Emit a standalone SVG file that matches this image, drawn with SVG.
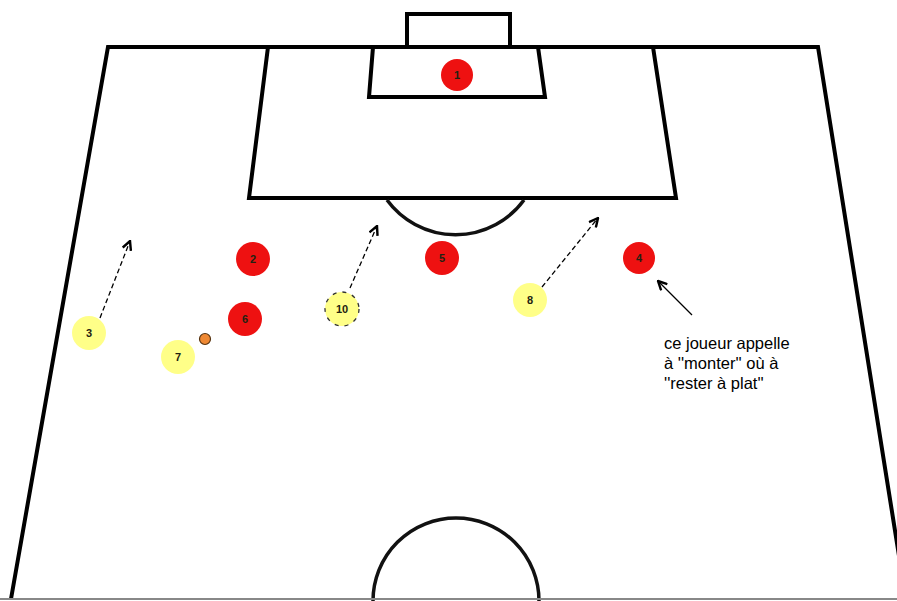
<svg xmlns="http://www.w3.org/2000/svg" width="897" height="601" viewBox="0 0 897 601">
<defs>
<style>
.line{fill:none;stroke:#000;stroke-width:4;stroke-linejoin:miter}
.arc{fill:none;stroke:#111;stroke-width:3.5}
.red{fill:#ee1111}
.yel{fill:#ffff88}
.num{font-family:"Liberation Sans",Arial,sans-serif;font-size:11px;font-weight:bold;fill:#221;text-anchor:middle}
.run{fill:none;stroke:#000;stroke-width:1.3;stroke-dasharray:5,3}
.note{font-family:"Liberation Sans",Arial,sans-serif;font-size:16.5px;fill:#000}
</style>
<marker id="ah" viewBox="0 0 10 10" refX="9" refY="5" markerWidth="11" markerHeight="11" orient="auto" markerUnits="userSpaceOnUse">
<path d="M1,1 L9,5 L1,9" fill="none" stroke="#000" stroke-width="2.2"/>
</marker>
</defs>
<rect width="897" height="601" fill="#fff"/>
<g id="pitch">
<polyline class="line" points="11,599 108,47 818,47 900,562"/>
<polyline class="line" points="268,47 249,198 676,198 653,47"/>
<polyline class="line" points="373,47 369,97 545,97 538,47"/>
<polyline class="line" points="407,47 407,14 510,14 510,47"/>
<path class="arc" d="M387,200 A85,85 0 0 0 524,200"/>
<path class="arc" d="M373,601 A83,83 0 0 1 539,601"/>
<line x1="0" y1="599" x2="897" y2="599" stroke="#888" stroke-width="2"/>
</g>
<g id="connectors">
<line class="run" x1="100" y1="318" x2="130" y2="241" marker-end="url(#ah)"/>
<line class="run" x1="350" y1="288" x2="377" y2="226" marker-end="url(#ah)"/>
<line class="run" x1="542" y1="287" x2="598" y2="218" marker-end="url(#ah)"/>
<line x1="692" y1="315" x2="658" y2="281" stroke="#000" stroke-width="1.3" marker-end="url(#ah)"/>
</g>
<g id="p1"><circle class="red" cx="457" cy="75" r="16"/><text class="num" x="457" y="79">1</text></g>
<g id="p2"><circle class="red" cx="253" cy="259" r="17"/><text class="num" x="253" y="263">2</text></g>
<g id="p6"><circle class="red" cx="245" cy="319" r="17"/><text class="num" x="245" y="323">6</text></g>
<g id="p5"><circle class="red" cx="442" cy="258" r="17"/><text class="num" x="442" y="262">5</text></g>
<g id="p4"><circle class="red" cx="639" cy="258" r="16"/><text class="num" x="639" y="262">4</text></g>
<g id="p3"><circle class="yel" cx="89" cy="333" r="17"/><text class="num" x="89" y="337">3</text></g>
<g id="p7"><circle class="yel" cx="178" cy="357" r="17"/><text class="num" x="178" y="361">7</text></g>
<g id="p10"><circle class="yel" cx="342" cy="309" r="17" stroke="#333" stroke-width="1.3" stroke-dasharray="4,6"/><text class="num" x="342" y="313">10</text></g>
<g id="p8"><circle class="yel" cx="530" cy="300" r="17"/><text class="num" x="530" y="304">8</text></g>
<g id="ball"><circle cx="205" cy="339" r="5.5" fill="#ee8833" stroke="#553311" stroke-width="1.2"/></g>
<g id="note">
<text class="note" x="664" y="349">ce joueur appelle</text>
<text class="note" x="664" y="369">à ''monter'' où à</text>
<text class="note" x="664" y="389">''rester à plat''</text>
</g>
</svg>
